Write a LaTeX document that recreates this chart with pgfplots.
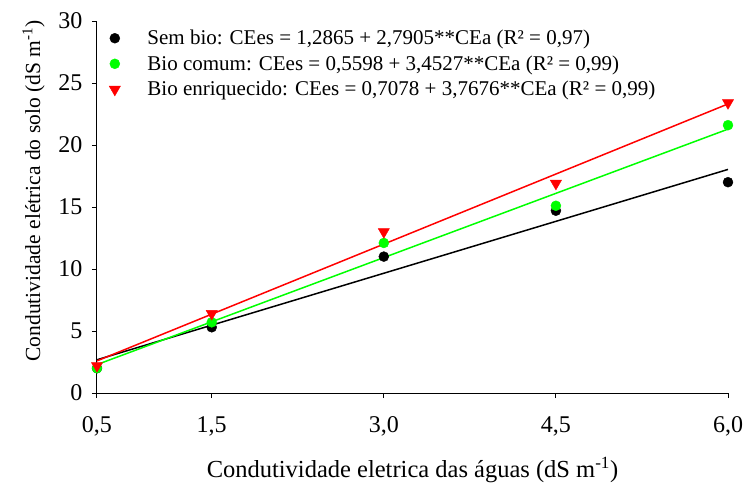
\documentclass[border=0pt]{standalone}
\usepackage{pgfplots}
\pgfplotsset{compat=1.18}
\usepackage{fontspec}
\setmainfont{Liberation Serif}
\definecolor{cgreen}{RGB}{0,255,0}
\definecolor{cred}{RGB}{255,0,0}

% observed means
\pgfplotstableread{
x    y
0.5  2.0
1.5  5.3
3.0  11.0
4.5  14.7
6.0  17.0
}\semBio
\pgfplotstableread{
x    y
0.5  2.0
1.5  5.7
3.0  12.1
4.5  15.1
6.0  21.6
}\bioComum
\pgfplotstableread{
x    y
0.5  2.2
1.5  6.4
3.0  13.0
4.5  16.9
6.0  23.4
}\bioEnriq

\begin{document}
\begin{tikzpicture}
\begin{axis}[
  scale only axis,
  width=631pt, height=372pt,
  xmin=0.5, xmax=6.0,
  ymin=0, ymax=30,
  xtick={0.5,1.5,3.0,4.5,6.0},
  ytick={0,5,10,15,20,25,30},
  axis x line*=bottom, axis y line*=left,
  axis line style={line width=1pt},
  tick style={line width=1pt,black},
  tick align=outside,
  major tick length=5pt,
  clip=false,
  /pgf/number format/assume math mode=true,
  tick label style={font=\fontsize{24}{28}\selectfont},
  xticklabel style={/pgf/number format/fixed, /pgf/number format/fixed zerofill,
    /pgf/number format/precision=1, /pgf/number format/use comma, yshift=-15pt},
  yticklabel style={xshift=-6pt},
  xlabel={Condutividade eletrica das águas (dS m\textsuperscript{-1})},
  ylabel={Condutividade elétrica do solo (dS m\textsuperscript{-1})},
  xlabel style={font=\fontsize{24.5}{28}\selectfont, yshift=-14pt},
  ylabel style={font=\fontsize{21.5}{26}\selectfont, yshift=7pt, xshift=16pt},
  legend style={draw=none, fill=none, at={(0,1)}, anchor=north west,
    xshift=10pt, yshift=-5pt,
    font=\fontsize{21}{25}\selectfont, row sep=5.5pt, inner sep=2pt,
    /tikz/every odd column/.append style={column sep=25pt}},
  legend cell align=left,
]
\addplot[only marks, mark=*, mark size=5pt, black] table {\semBio};
\addlegendentry{Sem bio: CEes = 1,2865 + 2,7905**CEa (R² = 0,97)}
\addplot[only marks, mark=*, mark size=5pt, cgreen] table {\bioComum};
\addlegendentry{Bio comum: CEes = 0,5598 + 3,4527**CEa (R² = 0,99)}
\addplot[only marks, mark=triangle*, mark size=6.5pt, cred, mark options={rotate=180}] table {\bioEnriq};
\addlegendentry{Bio enriquecido: CEes = 0,7078 + 3,7676**CEa (R² = 0,99)}
% fitted lines (end points of the regressions)
\addplot[forget plot, black, line width=1.5pt] coordinates {(0.5,2.68) (6.0,18.03)};
\addplot[forget plot, cgreen, line width=1.5pt] coordinates {(0.5,2.29) (6.0,21.28)};
\addplot[forget plot, cred, line width=1.5pt] coordinates {(0.5,2.59) (6.0,23.31)};
\end{axis}
\pgfresetboundingbox
\useasboundingbox (-97pt,-89pt) rectangle (647pt,393pt);
\end{tikzpicture}
\end{document}
